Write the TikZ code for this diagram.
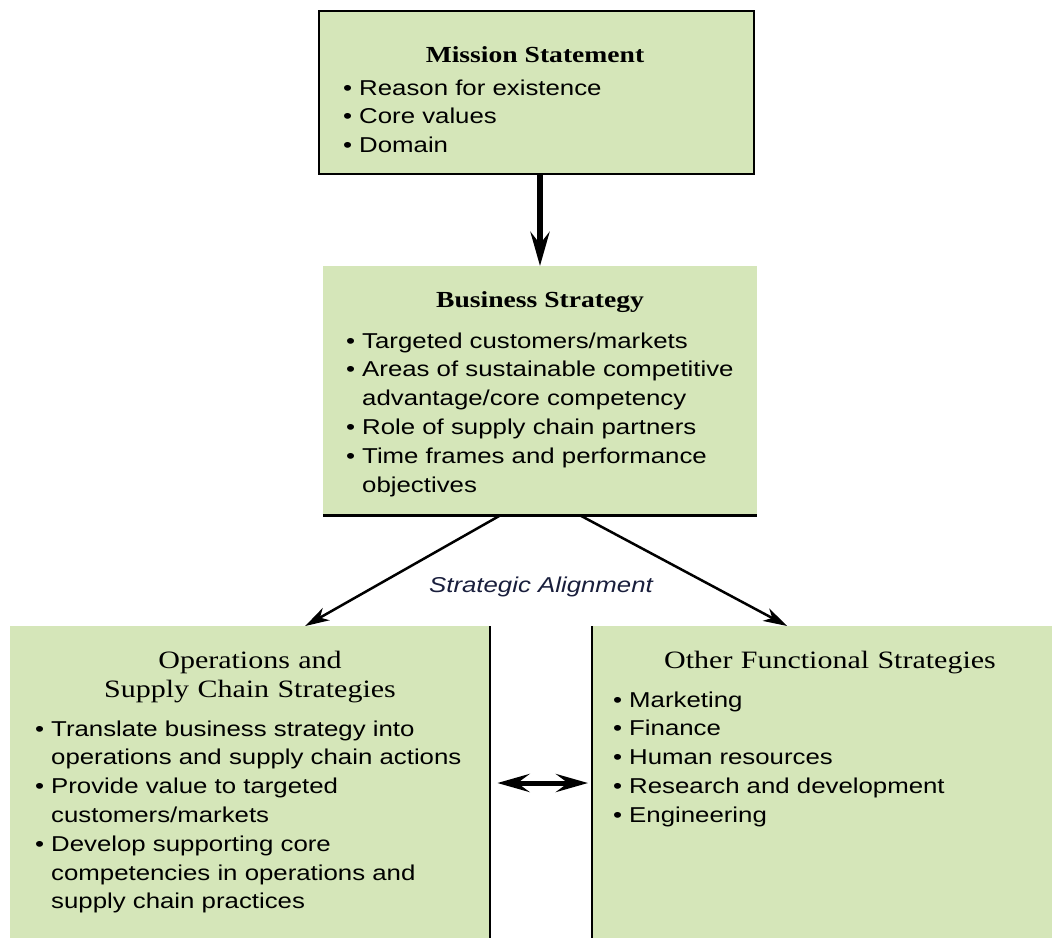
\documentclass[tikz,border=0pt]{standalone}
\usepackage{fontspec}
\setmainfont{Liberation Serif}[FakeStretch=1.2]
\setsansfont{Liberation Sans}[FakeStretch=1.2]
\usetikzlibrary{arrows.meta,calc,positioning}
\definecolor{boxgreen}{RGB}{213,230,185}
\definecolor{labelnavy}{RGB}{25,30,60}
\newcommand{\itm}[1]{\hangindent=16pt\hangafter=1\noindent\makebox[16pt][l]{\textbullet}#1\par}

\begin{document}
\begin{tikzpicture}[x=1pt,y=-1pt,
	panel/.style={fill=boxgreen, inner sep=0pt, anchor=north west},
	head/.style={font=\fontsize{23}{28}\selectfont\bfseries, anchor=base},
	subhead/.style={font=\fontsize{25}{29}\selectfont, anchor=base, text width=420pt, align=center},
	items/.style={font=\sffamily\fontsize{21.5}{28.8}\selectfont, anchor=base west, inner sep=0pt, text width=#1, align=left},
	]
	%%%%% START %%%%%
	\def\wid{2pt}
	\useasboundingbox (0,0) rectangle (1052,938);
	
	% boxes
	\node[panel, draw, line width=\wid, minimum width=435pt, minimum height=163pt] (mission) at (318,10) {};
	\node[panel, minimum width=434pt, minimum height=249pt] (business) at (323,266) {};
	\node[panel, minimum width=480pt, minimum height=312pt] (ops) at (10,626) {};
	\node[panel, minimum width=460pt, minimum height=312pt] (other) at (592,626) {};
	\draw[line width=2.5pt] (business.south west) -- (business.south east);
	\draw[line width=\wid] (ops.north east) -- (ops.south east);
	\draw[line width=\wid] (other.north west) -- (other.south west);
	
	% mission statement
	\node[head] (missionhead) at (535,62) {Mission Statement};
	\node[items=400pt] (missionlist) at (343,95) {\itm{Reason for existence}\itm{Core values}\itm{Domain}};
	
	% business strategy
	\node[head] (businesshead) at (540,307) {Business Strategy};
	\node[items=410pt] (businesslist) at (346,348) {\itm{Targeted customers/markets}%
		\itm{Areas of sustainable competitive\newline advantage/core competency}%
		\itm{Role of supply chain partners}%
		\itm{Time frames and performance\newline objectives}};
	
	% operations and supply chain
	\node[subhead] (opshead) at (250,668) {Operations and\\Supply Chain Strategies};
	\node[items=450pt] (opslist) at (35,736) {\itm{Translate business strategy into\newline operations and supply chain actions}%
		\itm{Provide value to targeted\newline customers/markets}%
		\itm{Develop supporting core\newline competencies in operations and\newline supply chain practices}};
	
	% other functional
	\node[subhead] (otherhead) at (830,668) {Other Functional Strategies};
	\node[items=420pt] (otherlist) at (613,707) {\itm{Marketing}\itm{Finance}\itm{Human resources}%
		\itm{Research and development}\itm{Engineering}};
	
	% connectors
	\draw[line width=6pt, -{Stealth[length=34pt,width=19pt,inset=12pt]}] (mission.south -| 540,0) -- (business.north -| 540,0);
	\draw[line width=2.5pt, -{Stealth[length=24pt,width=14pt,inset=7pt]}] ($(business.south)+(-40,0)$) -- ($(ops.north)+(55,0)$);
	\draw[line width=2.5pt, -{Stealth[length=24pt,width=14pt,inset=7pt]}] ($(business.south)+(40,0)$) -- ($(other.north)+(-35,0)$);
	\node[font=\sffamily\itshape\fontsize{21.5}{26}\selectfont, text=labelnavy, anchor=base] (alignment) at (541,592) {Strategic Alignment};
	\draw[line width=5pt, {Stealth[length=32pt,width=18pt,inset=12pt]}-{Stealth[length=32pt,width=18pt,inset=12pt]}, shorten <=7pt, shorten >=4pt] (ops.east |- 0,783) -- (other.west |- 0,783);
	%%%%% END %%%%%
\end{tikzpicture}
\end{document}
